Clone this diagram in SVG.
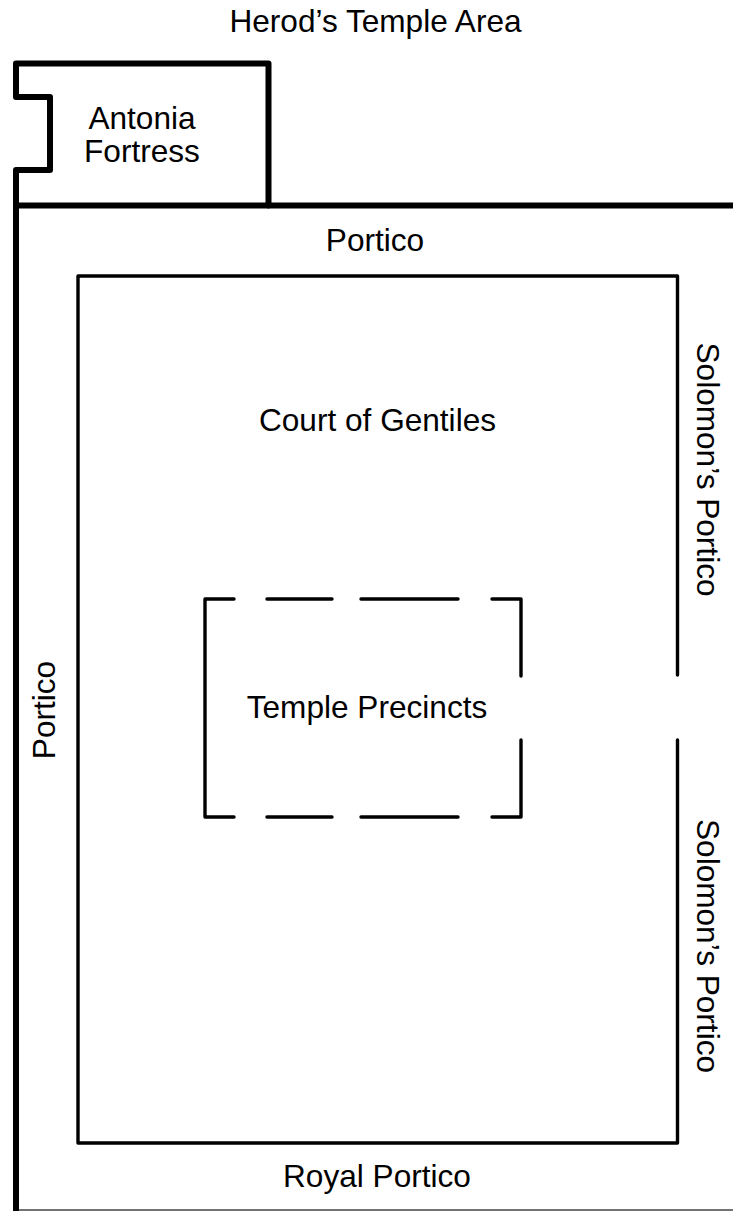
<svg xmlns="http://www.w3.org/2000/svg" width="733" height="1211" viewBox="0 0 733 1211">
<style>
text{font-family:"Liberation Sans",Arial,sans-serif;font-size:31.600px;fill:#000;text-anchor:middle}
.w{fill:none;stroke:#000;stroke-linejoin:round;stroke-linecap:round}
.t{stroke-width:6}.m{stroke-width:3.4}
</style>
<rect width="733" height="1211" fill="#fff"/>
<text x="375.500" y="32">Herod’s Temple Area</text>
<g id="fortress">
<path class="w t" d="M16 205.500V170H50V97H16V63.500H268.500V205.500"/>
<text x="142" y="128.500">Antonia</text>
<text x="142" y="162">Fortress</text>
</g>
<g id="outer-wall">
<path class="w t" style="stroke-linecap:butt" d="M733 205.500H16V1211"/>
<path d="M19 1210H733" stroke="#444" stroke-width="1.500"/>
</g>
<g id="court">
<path class="w m" d="M677.500 675V276H78V1143H677.500V740"/>
<text x="377.500" y="430.500">Court of Gentiles</text>
</g>
<g id="precincts">
<path class="w m" d="M234 599H205V817H234M267 599H332M267 817H332M361 599H458M361 817H458M492 599H521V676M492 817H521V740"/>
<text x="367" y="717.500">Temple Precincts</text>
</g>
<g id="labels">
<text x="375" y="251">Portico</text>
<text x="377" y="1187">Royal Portico</text>
<text transform="translate(55 710) rotate(-90)">Portico</text>
<text transform="translate(697 469.500) rotate(90)">Solomon’s Portico</text>
<text transform="translate(697 946) rotate(90)">Solomon’s Portico</text>
</g>
</svg>
